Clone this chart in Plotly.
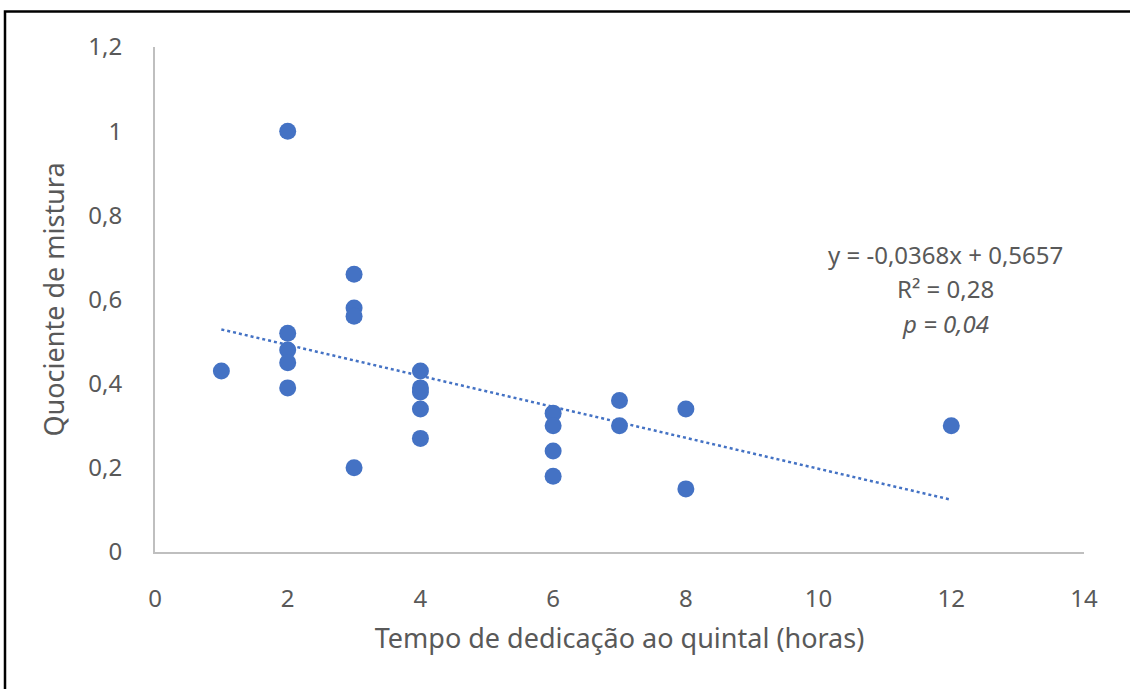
import plotly.graph_objects as go

# Data
horas = [1, 2, 2, 2, 2, 2, 3, 3, 3, 3, 4, 4, 4, 4, 4, 6, 6, 6, 6, 7, 7, 8, 8, 12]
quociente = [0.43, 1.00, 0.52, 0.48, 0.45, 0.39, 0.66, 0.58, 0.56, 0.20,
             0.43, 0.39, 0.38, 0.34, 0.27, 0.33, 0.30, 0.24, 0.18, 0.36, 0.30,
             0.34, 0.15, 0.30]

slope = -0.0368
intercept = 0.5657
trend_x = [min(horas), max(horas)]
trend_y = [intercept + slope * v for v in trend_x]

eq_lines = ["y = -0,0368x + 0,5657", "R² = 0,28", "<i>p = 0,04</i>"]

x_title = "Tempo de dedicação ao quintal (horas)"
y_title = "Quociente de mistura"

BLUE = "#4472C4"
GREY = "#595959"
AXIS = "#BFBFBF"
FONT = "Noto Sans"

W, H = 1130, 689
L, R, T, B = 155, 46, 47, 137
pw, ph = W - L - R, H - T - B

def px_x(p):
    return (p - L) / pw

def px_y(p):
    return (H - B - p) / ph

fig = go.Figure()
fig.add_trace(go.Scatter(
    x=trend_x, y=trend_y, mode="lines",
    line=dict(color=BLUE, width=2.5, dash="dot"),
    hoverinfo="skip", showlegend=False,
))
fig.add_trace(go.Scatter(
    x=horas, y=quociente, mode="markers",
    marker=dict(color=BLUE, size=17, line=dict(width=0)),
    showlegend=False,
))

for i, txt in enumerate(eq_lines):
    fig.add_annotation(
        x=px_x(945), y=px_y(254 + 34.5 * i), xref="paper", yref="paper",
        text=txt, showarrow=False, xanchor="center", yanchor="middle",
        font=dict(family=FONT, size=24, color=GREY),
    )

fig.add_shape(
    type="rect", xref="paper", yref="paper",
    x0=px_x(5), x1=px_x(1160), y0=px_y(11.5), y1=px_y(720),
    line=dict(color="black", width=2.5), fillcolor="rgba(0,0,0,0)", layer="above",
)

fig.update_layout(
    width=W, height=H,
    margin=dict(l=L, r=R, t=T, b=B),
    paper_bgcolor="white", plot_bgcolor="white",
    separators=", ",
    font=dict(family=FONT, color=GREY),
    xaxis=dict(
        range=[0, 14], dtick=2, tick0=0, showgrid=False, zeroline=False,
        showline=True, linecolor=AXIS, linewidth=2,
        ticks="", ticklabelstandoff=24,
        tickfont=dict(family=FONT, size=24, color=GREY),
        title=dict(text=x_title, font=dict(family=FONT, size=27, color=GREY), standoff=16),
    ),
    yaxis=dict(
        range=[0, 1.2], dtick=0.2, tick0=0, showgrid=False, zeroline=False,
        showline=True, linecolor=AXIS, linewidth=2,
        ticks="", ticklabelstandoff=26,
        tickfont=dict(family=FONT, size=24, color=GREY),
        title=dict(text=y_title, font=dict(family=FONT, size=27, color=GREY), standoff=16),
    ),
)

fig.write_html("out.html")
